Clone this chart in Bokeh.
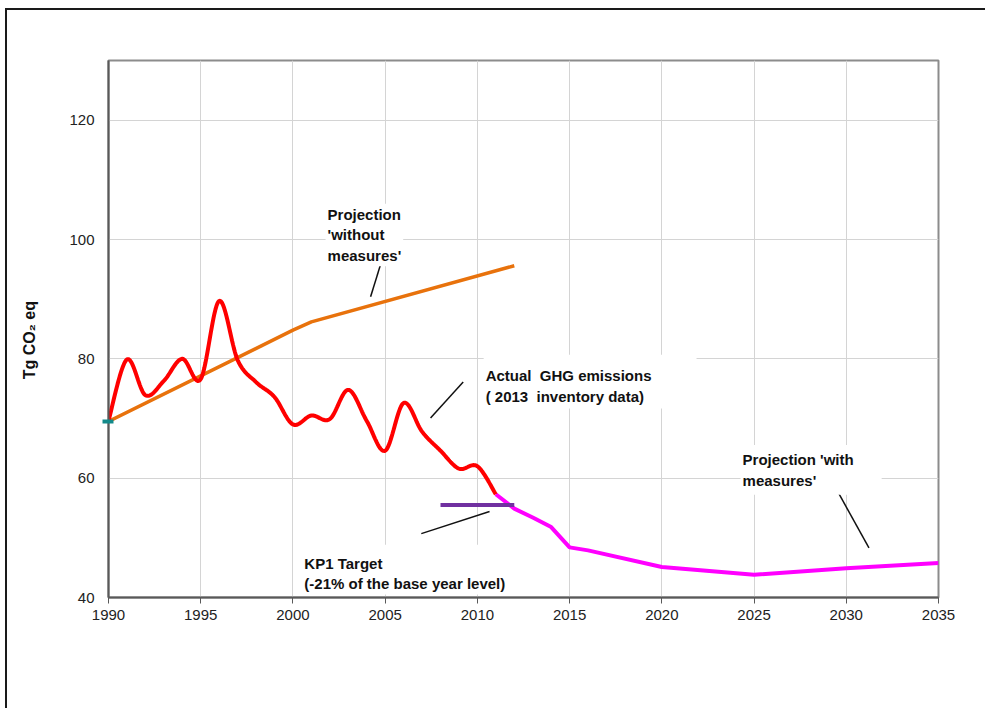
from bokeh.plotting import figure
from bokeh.models import Range1d, FixedTicker, Label, LinearAxis
from bokeh.embed import file_html
from bokeh.resources import INLINE

# ---------------- data ----------------
years_actual = [1990, 1991, 1992, 1993, 1994, 1995, 1996, 1997, 1998, 1999, 2000,
                2001, 2002, 2003, 2004, 2005, 2006, 2007, 2008, 2009, 2010, 2011]
actual = [69.6, 79.9, 73.9, 76.3, 80.0, 76.6, 89.7, 79.8, 76.1, 73.6, 69.0,
          70.5, 69.9, 74.8, 69.6, 64.6, 72.6, 67.8, 64.6, 61.6, 62.0, 57.3]

years_wom = [1990, 2000, 2001, 2012]
without_measures = [69.5, 84.8, 86.2, 95.6]

years_wm = [2011, 2012, 2013, 2014, 2015, 2016, 2020, 2025, 2030, 2035]
with_measures = [57.3, 54.9, 53.4, 51.8, 48.4, 47.9, 45.1, 43.8, 44.9, 45.8]

target_years = [2008, 2012]
target_value = 55.5

base_year = 1990
base_value = 69.5

x_ticks = [1990, 1995, 2000, 2005, 2010, 2015, 2020, 2025, 2030, 2035]
y_ticks = [40, 60, 80, 100, 120]

# annotation texts and their leader lines (x0, y0, x1, y1)
label_texts = ["Projection\n'without\nmeasures'",
               "Actual\u00a0\u00a0GHG emissions\n(\u00a02013\u00a0\u00a0inventory data)",
               "KP1 Target\n(-21% of the base year level)",
               "Projection 'with\nmeasures'"]
label_x = [2001.77, 2010.34, 2000.51, 2024.27]
label_y = [106.0, 79.0, 47.5, 64.9]
leader_x0 = [2004.93, 2009.23, 2010.66, 2029.6]
leader_y0 = [97.6, 76.1, 54.4, 57.4]
leader_x1 = [2004.21, 2007.46, 2006.96, 2031.23]
leader_y1 = [90.4, 70.1, 50.7, 48.3]
label_pad = [dict(left=2, right=2, top=2, bottom=2),
             dict(left=2, right=45, top=12, bottom=4),
             dict(left=2, right=2, top=10, bottom=2),
             dict(left=2, right=28, top=6, bottom=6)]


def smooth(xs, ys, n=20):
    """Excel-like smoothed line (cubic Bezier / Catmull-Rom)."""
    ox, oy = [], []
    m = len(xs)
    for i in range(m - 1):
        x0, y0 = (xs[i - 1], ys[i - 1]) if i > 0 else (xs[i], ys[i])
        x1, y1 = xs[i], ys[i]
        x2, y2 = xs[i + 1], ys[i + 1]
        x3, y3 = (xs[i + 2], ys[i + 2]) if i + 2 < m else (xs[i + 1], ys[i + 1])
        c1x, c1y = x1 + (x2 - x0) / 6, y1 + (y2 - y0) / 6
        c2x, c2y = x2 - (x3 - x1) / 6, y2 - (y3 - y1) / 6
        for k in range(n):
            t = k / n
            a, b, c, d = (1 - t) ** 3, 3 * t * (1 - t) ** 2, 3 * t * t * (1 - t), t ** 3
            ox.append(a * x1 + b * c1x + c * c2x + d * x2)
            oy.append(a * y1 + b * c1y + c * c2y + d * y2)
    ox.append(xs[-1])
    oy.append(ys[-1])
    return ox, oy


FONT = "Liberation Sans"

p = figure(width=980, height=700, output_backend="svg", toolbar_location=None,
           x_range=Range1d(1990, 2035), y_range=Range1d(40, 130),
           min_border_left=101, min_border_right=49, min_border_top=50, min_border_bottom=113,
           background_fill_color="white", border_fill_color="white",
           styles={"border-top": "2px solid #1a1a1a", "border-left": "2px solid #1a1a1a",
                   "margin-top": "8px", "margin-left": "5px"})

p.outline_line_color = "#8c8c8c"
p.outline_line_width = 2

p.xgrid.ticker = FixedTicker(ticks=x_ticks)
p.ygrid.ticker = FixedTicker(ticks=y_ticks)
p.grid.grid_line_color = "#d4d4d4"
p.grid.grid_line_width = 1

# x axis
xa = p.xaxis[0]
xa.ticker = FixedTicker(ticks=x_ticks)
xa.axis_line_color = "#595959"
xa.axis_line_width = 2
xa.minor_tick_line_color = None
xa.major_label_text_font = FONT
xa.major_label_text_font_size = "15px"
xa.major_label_text_color = "#222222"
xa.major_tick_line_color = "#595959"
xa.major_tick_line_width = 1
xa.major_tick_in = 0
xa.major_tick_out = 6
xa.major_label_standoff = 6

# main y axis (labels only)
ya = p.yaxis[0]
ya.ticker = FixedTicker(ticks=y_ticks)
ya.axis_line_color = None
ya.major_tick_line_color = None
ya.minor_tick_line_color = None
ya.major_label_text_font = FONT
ya.major_label_text_font_size = "15px"
ya.major_label_text_color = "#222222"
ya.major_label_standoff = 2
ya.axis_label = "Tg CO₂ eq\u00a0\u00a0\u00a0\u00a0\u00a0"
ya.axis_label_text_font = FONT
ya.axis_label_text_font_style = "bold"
ya.axis_label_text_font_size = "16px"
ya.axis_label_text_color = "#111111"
ya.axis_label_standoff = 28

# inner axis: draws the axis line and the base-year marker as a tick
base_axis = LinearAxis(ticker=FixedTicker(ticks=[base_value]),
                       axis_line_color="#595959", axis_line_width=2,
                       major_tick_line_color="#138a8a", major_tick_line_width=4,
                       major_tick_in=5, major_tick_out=6,
                       minor_tick_line_color=None,
                       major_label_text_font_size="0px", major_label_standoff=0,
                       major_label_text_alpha=0)
p.add_layout(base_axis, "left")
p.left = [base_axis, ya]

# leader lines
p.segment(x0=leader_x0, y0=leader_y0, x1=leader_x1, y1=leader_y1,
          line_color="#111111", line_width=1.5)

# projection without measures
p.line(years_wom, without_measures, line_color="#e8720c", line_width=3.5)

# projection with measures
p.line(years_wm, with_measures, line_color="#ff00ff", line_width=4)

# actual emissions (smoothed)
sx, sy = smooth(years_actual, actual)
p.line(sx, sy, line_color="#ff0000", line_width=4)

# KP1 target
p.line(target_years, [target_value] * len(target_years), line_color="#7030a0", line_width=4)

for t, x, y, pad in zip(label_texts, label_x, label_y, label_pad):
    p.add_layout(Label(x=x, y=y, text=t, anchor="top_left",
                       x_offset=-pad["left"] + 2, y_offset=pad["top"] - 2,
                       text_font=FONT, text_font_size="15px", text_font_style="bold",
                       text_color="#111111", text_line_height=1.22,
                       background_fill_color="white", padding=pad))

open("out.html", "w").write(file_html(p, INLINE))
